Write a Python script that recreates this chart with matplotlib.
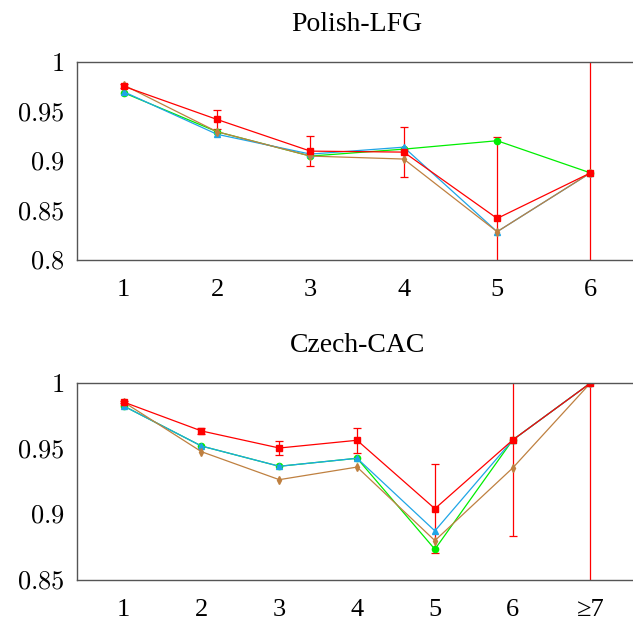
import matplotlib
matplotlib.use("Agg")
import matplotlib.pyplot as plt

plt.rcParams['font.family'] = ['Liberation Serif', 'DejaVu Serif']
plt.rcParams['mathtext.fontset'] = 'cm'

# Polish-LFG
pl_x = [1, 2, 3, 4, 5, 6]
pl_xlabels = ['1', '2', '3', '4', '5', '6']
pl_red = [0.9755, 0.942, 0.910, 0.909, 0.842, 0.888]
pl_red_err = [0.002, 0.0095, 0.015, 0.0255, 0.0825, 0.2]
pl_green = [0.969, 0.9296, 0.905, 0.912, 0.9205, 0.888]
pl_blue = [0.970, 0.927, 0.907, 0.914, 0.8286, 0.888]
pl_brown = [0.9768, 0.9296, 0.905, 0.902, 0.8286, 0.888]

# Czech-CAC
cz_x = [1, 2, 3, 4, 5, 6, 7]
cz_xlabels = ['1', '2', '3', '4', '5', '6', '≥7']
cz_red = [0.9855, 0.9635, 0.9505, 0.9564, 0.9043, 0.9566, 1.0]
cz_red_err = [0.001, 0.002, 0.0055, 0.0095, 0.034, 0.0733, 0.2]
cz_green = [0.9825, 0.952, 0.9366, 0.9427, 0.8734, 0.9566, 1.0]
cz_blue = [0.9825, 0.952, 0.9366, 0.9427, 0.8874, 0.9566, 1.0]
cz_brown = [0.9855, 0.9477, 0.9264, 0.936, 0.880, 0.9353, 1.0]

RED = '#ff0000'
GREEN = '#00ee00'
BLUE = '#1fa5e6'
BROWN = '#bf8040'

fig = plt.figure(figsize=(6.33, 6.24), dpi=100)
ax1 = fig.add_axes([0.1216, 0.5833, 0.885, 0.3173])
ax2 = fig.add_axes([0.1216, 0.0705, 0.885, 0.3157])


def draw(ax, x, red, red_err, green, blue, brown):
    ax.errorbar(x, red, yerr=red_err, color=RED, marker='s', ms=5, lw=0.9,
                elinewidth=0.9, capsize=3, capthick=0.9)
    ax.plot(x, green, color=GREEN, marker='o', ms=4.5, lw=0.9)
    ax.plot(x, blue, color=BLUE, marker='^', ms=4.5, lw=0.9)
    ax.plot(x, brown, color=BROWN, marker='d', ms=4, lw=0.9)
    for s in ax.spines.values():
        s.set_color('#555555')
        s.set_linewidth(1.0)
    ax.tick_params(length=0, labelsize=19)
    ax.tick_params(axis='x', pad=14)
    ax.tick_params(axis='y', pad=9)


draw(ax1, pl_x, pl_red, pl_red_err, pl_green, pl_blue, pl_brown)
ax1.set_xlim(0.5, 6.5)
ax1.set_ylim(0.8, 1.0)
ax1.set_xticks(pl_x)
ax1.set_xticklabels(pl_xlabels)
ax1.set_yticks([0.8, 0.85, 0.9, 0.95, 1.0])
ax1.set_yticklabels(['$0.8$', '$0.85$', '$0.9$', '$0.95$', '$1$'])
ax1.set_title('Polish-LFG', fontsize=20, pad=22)

draw(ax2, cz_x, cz_red, cz_red_err, cz_green, cz_blue, cz_brown)
ax2.set_xlim(0.4, 7.6)
ax2.set_ylim(0.85, 1.0)
ax2.set_xticks(cz_x)
ax2.set_xticklabels(cz_xlabels)
ax2.set_yticks([0.85, 0.9, 0.95, 1.0])
ax2.set_yticklabels(['$0.85$', '$0.9$', '$0.95$', '$1$'])
ax2.set_title('Czech-CAC', fontsize=20, pad=22)

fig.savefig('out.png', dpi=100)
